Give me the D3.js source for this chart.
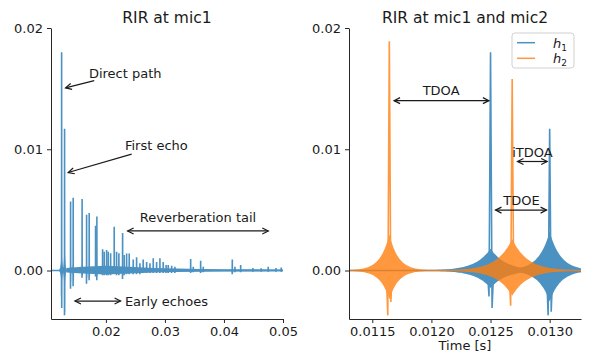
<!DOCTYPE html>
<meta charset="utf-8">
<style>
body { margin:0; background:#fff; }
svg text { font-family: "DejaVu Sans", sans-serif; fill:#1a1a1a; }
.axis path, .axis line { stroke:#262626; stroke-width:1; }
.axis text { font-size:13px; }
.title { font-size:15.5px; text-anchor:middle; }
.ann { font-size:13px; }
.arrow { stroke:#1a1a1a; stroke-width:1.2; fill:none; }
</style>
<body>
<svg id="chart" width="598" height="359"></svg>
<script src="https://cdn.jsdelivr.net/npm/d3@7"></script>
<script>
// h1 (mic1) echoes: arrival [s], positive peak, negative lobes left/right, ringing level, ringing width [s]
var h1Time = [0.0125, 0.0130, 0.01402, 0.01446, 0.01597, 0.01673, 0.01717, 0.01825, 0.01847, 0.01944,
  0.01971, 0.02012, 0.02039, 0.0208, 0.02141, 0.02181, 0.0222, 0.02283, 0.0231, 0.02351,
  0.02395, 0.02463, 0.0252, 0.02576, 0.02632, 0.0269, 0.02746, 0.02802, 0.02859, 0.02915,
  0.02971, 0.0302, 0.03056, 0.03114, 0.03169, 0.03436, 0.0348, 0.03605, 0.03649, 0.04141,
  0.04186, 0.04283, 0.0449, 0.0463, 0.0475, 0.0488, 0.0497];
var h1Peak = [0.0180, 0.0117, 0.0057, 0.0060, 0.0059, 0.0046, 0.00475, 0.0037, 0.00445, 0.00175,
  0.00155, 0.0017, 0.00155, 0.00142, 0.0036, 0.00155, 0.00142, 0.0031, 0.00128, 0.0014,
  0.0014, 0.0009, 0.0011, 0.0006, 0.0009, 0.0007, 0.0006, 0.0010, 0.0007, 0.0010,
  0.0007, 0.00045, 0.00045, 0.0004, 0.0003, 0.00095, 0.0003, 0.0008, 0.0003, 0.0009,
  0.0003, 0.00045, 0.0002, 0.00018, 0.0003, 0.0002, 0.00025];
var h1TroughL = [-0.00215, -0.0037, -0.0015, -0.0013, -0.0006, -0.0011, -0.0008, -0.0005, -0.0008, -0.0004,
  -0.0004, -0.0004, -0.0004, -0.0004, -0.0002, -0.0004, -0.0004, -0.0007, -0.0004, -0.0003,
  -0.0003, -0.0003, -0.0003, -0.0003, -0.0002, -0.0002, -0.0002, -0.0002, -0.0002, -0.0002,
  -0.0002, -0.0002, -0.0002, -0.0002, -0.0002, -0.0002, -0.00015, -0.0002, -0.00015, -0.0003,
  -0.00015, -0.00015, -0.0001, -0.0001, -0.0001, -0.0001, -0.0001];
var h1TroughR = [-0.0031, -0.0034, -0.0009, -0.0008, -0.0004, -0.0006, -0.0005, -0.0003, -0.0005, -0.0003,
  -0.0003, -0.0003, -0.0003, -0.0003, -0.0002, -0.0003, -0.0003, -0.0004, -0.0003, -0.0002,
  -0.0002, -0.0002, -0.0002, -0.0002, -0.00015, -0.00015, -0.00015, -0.00015, -0.00015, -0.00015,
  -0.00015, -0.00015, -0.00015, -0.00015, -0.00015, -0.00015, -0.0001, -0.00015, -0.0001, -0.0002,
  -0.0001, -0.0001, -0.0001, -0.0001, -0.0001, -0.0001, -0.0001];
var h1Ring = [0.0018, 0.0032, 0.0008, 0.0008, 0.0006, 0.0005, 0.0005, 0.0004, 0.0005, 0.0002,
  0.0002, 0.0002, 0.0002, 0.0002, 0.0003, 0.0002, 0.0002, 0.0003, 0.0002, 0.0002,
  0.0002, 0.00015, 0.00015, 0.0001, 0.00015, 0.0001, 0.0001, 0.00015, 0.0001, 0.00015,
  0.0001, 0.0001, 0.0001, 0.0001, 0.0001, 0.00015, 0.0001, 0.00015, 0.0001, 0.00015,
  0.0001, 0.0001, 0.00005, 0.00005, 0.00005, 0.00005, 0.00005];
var h1Width = [1.27e-4, 9.3e-5, 1e-4, 1e-4, 1e-4, 1e-4, 1e-4, 1e-4, 1e-4, 1e-4,
  1e-4, 1e-4, 1e-4, 1e-4, 1e-4, 1e-4, 1e-4, 1e-4, 1e-4, 1e-4,
  1e-4, 1e-4, 1e-4, 1e-4, 1e-4, 1e-4, 1e-4, 1e-4, 1e-4, 1e-4,
  1e-4, 1e-4, 1e-4, 1e-4, 1e-4, 1e-4, 1e-4, 1e-4, 1e-4, 1e-4,
  1e-4, 1e-4, 1e-4, 1e-4, 1e-4, 1e-4, 1e-4];

// diffuse reverberation floor of h1
var tailTime  = [0.0133, 0.016, 0.02, 0.024, 0.028, 0.032, 0.036, 0.04, 0.045, 0.05];
var tailLevel = [0.0002, 0.0003, 0.0004, 0.0003, 0.0002, 0.00016, 0.00013, 0.00011, 0.0001, 0.00008];

// h2 (mic2) echoes inside the zoomed window
var h2Time = [0.011644, 0.012683];
var h2Peak = [0.0189, 0.0158];
var h2TroughL = [-0.0037, -0.0029];
var h2TroughR = [-0.0026, -0.0014];
var h2Ring = [0.0030, 0.0026];
var h2Width = [7.6e-5, 1.27e-4];

var yTicks = [0, 0.01, 0.02];
var leftXTicks = [0.02, 0.03, 0.04, 0.05];
var rightXTicks = [0.0115, 0.0120, 0.0125, 0.0130];
var legendLabels = ["1", "2"];

var blue = "#1f77b4", orange = "#ff7f0e";

function echoes(t, pk, tl, tr, ring, w) {
  return t.map(function(d, i) {
    return {t: d, peak: pk[i], lo: tl[i], ro: tr[i], ring: ring[i], width: w[i]};
  });
}
var h1 = echoes(h1Time, h1Peak, h1TroughL, h1TroughR, h1Ring, h1Width);
var h2 = echoes(h2Time, h2Peak, h2TroughL, h2TroughR, h2Ring, h2Width);
var tail = tailTime.map(function(d, i) { return {t: d, v: tailLevel[i]}; });

var svg = d3.select("#chart");
var yTop = 28, yBot = 319;
var y = d3.scaleLinear().domain([-0.004, 0.02]).range([yBot, yTop]);

var panels = [
  {id: "p1", left: 51, right: 283, dom: [0.0107, 0.05], ticks: leftXTicks, fmt: d3.format(".2f"), title: "RIR at mic1"},
  {id: "p2", left: 349, right: 581, dom: [0.011303, 0.013265], ticks: rightXTicks, fmt: d3.format(".4f"), title: "RIR at mic1 and mic2"}
];

var dlt = 1.3e-5;  // spacing of the lobes around each peak

function drawSignal(g, x, data, color, withTail) {
  var sg = g.append("g").attr("opacity", 0.8);
  var dom = x.domain();
  sg.append("line")
    .attr("x1", x(dom[0])).attr("x2", x(dom[1]))
    .attr("y1", y(0)).attr("y2", y(0))
    .attr("stroke", color).attr("stroke-width", 1.5);
  if (withTail) {
    sg.append("path").datum(tail)
      .attr("fill", color)
      .attr("d", d3.area().x(function(d) { return x(d.t); })
        .y0(function(d) { return y(-0.8 * d.v); }).y1(function(d) { return y(d.v); }));
  }
  // ringing around each arrival, drawn as its envelope
  var ringArea = d3.area().x(function(d) { return x(d.t); })
    .y0(function(d) { return y(-0.8 * d.v); }).y1(function(d) { return y(d.v); });
  data.forEach(function(e) {
    var pts = d3.range(-50, 51).map(function(k) {
      var dt = k / 50 * 5 * e.width;
      return {t: e.t + dt, v: e.ring * Math.exp(-Math.abs(dt) / e.width)};
    });
    sg.append("path").datum(pts).attr("fill", color).attr("d", ringArea);
  });
  var spike = d3.line().x(function(d) { return x(d[0]); }).y(function(d) { return y(d[1]); });
  data.forEach(function(e) {
    sg.append("path")
      .datum([[e.t - 2 * dlt, 0], [e.t - dlt, e.lo], [e.t, e.peak], [e.t + dlt, e.ro], [e.t + 2 * dlt, 0]])
      .attr("fill", "none").attr("stroke", color).attr("stroke-width", 1.6)
      .attr("stroke-linejoin", "miter").attr("d", spike);
  });
}

function arrow(g, p0, p1, both) {
  g.append("line").attr("class", "arrow")
    .attr("x1", p0[0]).attr("y1", p0[1]).attr("x2", p1[0]).attr("y2", p1[1]);
  function head(a, b) {
    var ang = Math.atan2(b[1] - a[1], b[0] - a[0]);
    var L = 6, Wd = 3;
    var bx = b[0] - L * Math.cos(ang), by = b[1] - L * Math.sin(ang);
    var nx = -Math.sin(ang) * Wd, ny = Math.cos(ang) * Wd;
    g.append("path").attr("class", "arrow")
      .attr("d", "M" + (bx + nx) + "," + (by + ny) + "L" + b[0] + "," + b[1] + "L" + (bx - nx) + "," + (by - ny));
  }
  head(p0, p1);
  if (both) head(p1, p0);
}

var annLeft = [
  {text: "Direct path", at: [0.01712, 0.0163], anchor: "start", from: [0.01802, 0.01566], to: [0.01317, 0.01506], both: false},
  {text: "First echo", at: [0.02322, 0.01029], anchor: "start", from: [0.02436, 0.0096], to: [0.01361, 0.00808], both: false},
  {text: "Reverberation tail", at: [0.0356, 0.00436], anchor: "middle", from: [0.02368, 0.00326], to: [0.04751, 0.00326], both: true},
  {text: "Early echoes", at: [0.02322, -0.00252], anchor: "start", from: [0.01475, -0.00252], to: [0.02249, -0.00252], both: true}
];
var annRight = [
  {text: "TDOA", at: [0.012082, 0.01483], anchor: "middle", from: [0.011684, 0.01401], to: [0.012486, 0.01401], both: true},
  {text: "iTDOA", at: [0.012854, 0.00977], anchor: "middle", from: [0.012728, 0.00899], to: [0.012979, 0.00899], both: true},
  {text: "TDOE", at: [0.012762, 0.00577], anchor: "middle", from: [0.012542, 0.00498], to: [0.012974, 0.00498], both: true}
];

panels.forEach(function(p, pi) {
  var x = d3.scaleLinear().domain(p.dom).range([p.left, p.right]);
  var g = svg.append("g");

  svg.append("clipPath").attr("id", "clip" + p.id).append("rect")
    .attr("x", p.left).attr("y", yTop).attr("width", p.right - p.left).attr("height", yBot - yTop);
  var plot = g.append("g").attr("clip-path", "url(#clip" + p.id + ")");

  drawSignal(plot, x, h1, blue, pi === 0);
  if (pi === 1) drawSignal(plot, x, h2, orange, false);

  g.append("g").attr("class", "axis").attr("transform", "translate(" + p.left + ",0)")
    .call(d3.axisLeft(y).tickValues(yTicks).tickFormat(d3.format(".2f")).tickSize(4).tickSizeOuter(0).tickPadding(4));
  g.append("g").attr("class", "axis").attr("transform", "translate(0," + yBot + ")")
    .call(d3.axisBottom(x).tickValues(p.ticks).tickFormat(p.fmt).tickSize(4).tickSizeOuter(0).tickPadding(4));
  g.selectAll(".axis text").attr("fill", "#1a1a1a");

  g.append("text").attr("class", "title")
    .attr("x", (p.left + p.right) / 2).attr("y", 23).text(p.title);

  var anns = pi === 0 ? annLeft : annRight;
  anns.forEach(function(a) {
    g.append("text").attr("class", "ann")
      .attr("x", x(a.at[0])).attr("y", y(a.at[1])).attr("dy", "0.36em")
      .attr("text-anchor", a.anchor).text(a.text);
    arrow(g, [x(a.from[0]), y(a.from[1])], [x(a.to[0]), y(a.to[1])], a.both);
  });

  if (pi === 1) {
    svg.append("text").attr("class", "ann")
      .attr("x", (p.left + p.right) / 2).attr("y", 350)
      .attr("text-anchor", "middle").text("Time [s]");

    var lg = svg.append("g");
    lg.append("rect").attr("x", 512).attr("y", 33).attr("width", 62).attr("height", 35)
      .attr("rx", 3).attr("fill", "#fff").attr("fill-opacity", 0.8).attr("stroke", "#d0d0d0");
    [blue, orange].forEach(function(c, i) {
      var ly = 42.7 + i * 15.6;
      lg.append("line").attr("x1", 517).attr("x2", 535).attr("y1", ly).attr("y2", ly)
        .attr("stroke", c).attr("stroke-width", 1.5).attr("opacity", 0.8);
      var t = lg.append("text").attr("x", 553).attr("y", ly + 5).style("font-size", "13px");
      t.append("tspan").attr("font-style", "italic").text("h");
      t.append("tspan").attr("dy", 3).style("font-size", "9px").text(legendLabels[i]);
    });
  }
});
</script>
</body>
